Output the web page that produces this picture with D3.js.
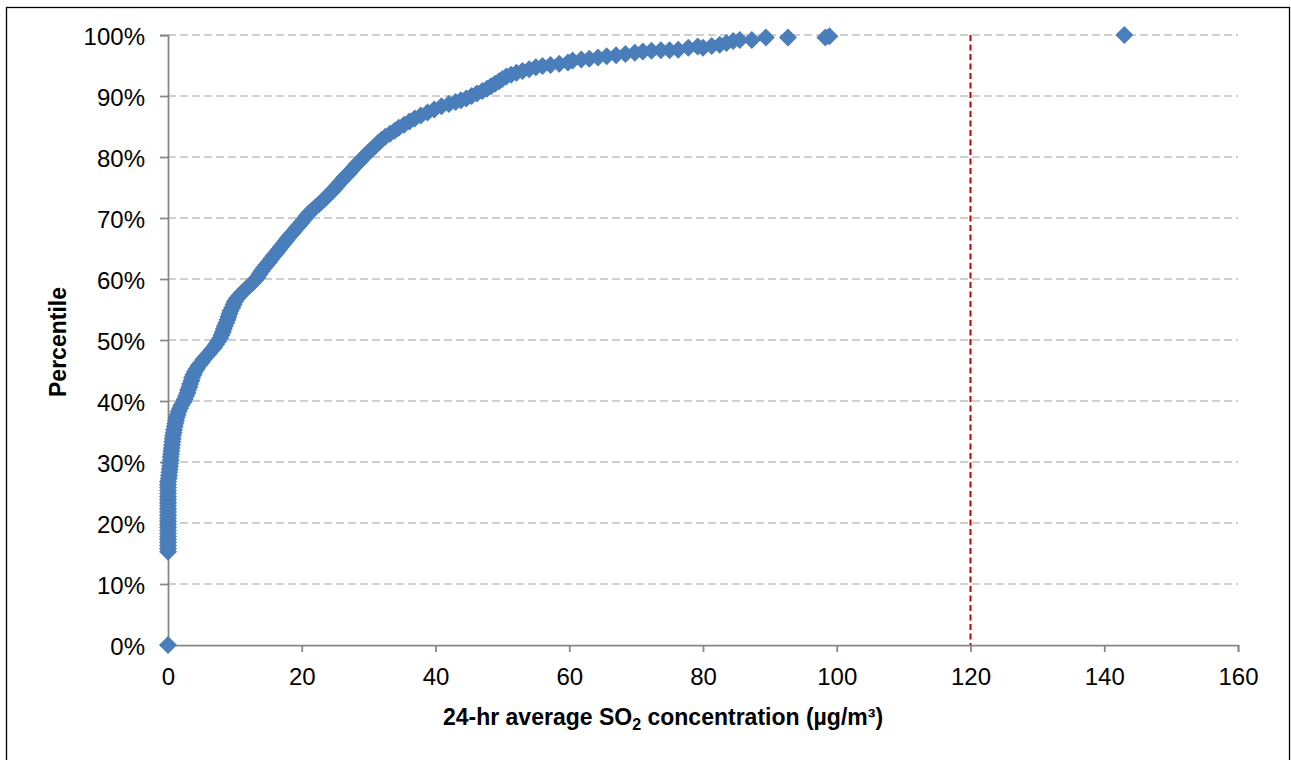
<!DOCTYPE html>
<html>
<head>
<meta charset="utf-8">
<script src="https://cdn.jsdelivr.net/npm/d3@7"></script>
<style>
  body { margin: 0; background: #fff; }
  svg { display: block; }
  text { font-family: "Liberation Sans", Arial, sans-serif; fill: #000; }
</style>
</head>
<body>
<div id="chart"></div>
<script>
/* concentracoes (ug/m3) e percentis (%) */
var conc = [0,
  0,0,0,0,0,0,0,0,0,0,0,0,0,0,0,0,0,0,0,0,0,0,0,0,
  0.1,0.15,0.2,0.25,0.3,0.35,0.4,0.4,0.45,0.5,0.55,0.6,0.65,0.7,0.75,0.85,0.9,1.0,1.1,1.2,
  1.3,1.45,1.6,1.8,2.0,2.3,2.5,2.7,2.9,3.0,3.2,3.3,3.5,3.6,3.8,4.0,4.3,4.6,5.0,5.3,
  5.7,6.1,6.5,6.9,7.2,7.5,7.8,8.0,8.2,8.35,8.5,8.7,8.9,9.05,9.2,9.35,9.6,9.8,10.0,10.3,
  10.7,11.1,11.6,12.1,12.6,13.0,13.4,13.7,14.0,14.35,14.7,15.1,15.45,15.8,16.2,16.55,16.9,17.3,17.65,18.0,
  18.4,18.8,19.2,19.6,20.0,20.35,20.7,21.1,21.6,22.1,22.6,23.1,23.6,24.0,24.5,24.9,25.3,25.7,26.1,26.5,
  27.0,27.4,27.8,28.2,28.7,29.1,29.5,30.0,30.5,31.0,31.4,31.9,32.5,33.2,33.9,34.5,35.3,36.1,36.9,37.8,
  38.8,39.8,40.9,42.0,43.0,43.8,44.6,45.4,46.2,47.0,47.7,48.3,48.9,49.5,50.0,50.6,51.3,52.1,53.0,54.0,
  55.0,56.0,57.2,58.5,59.8,60.5,61.8,63.0,64.3,65.6,67.0,68.4,69.8,71.0,72.3,73.7,75.0,76.3,77.8,79.2,
  80.0,81.3,82.5,83.5,84.5,85.5,87.3,89.4,92.7,98.3,98.9,143.0];

var pct = [0,
  15.3,15.8,16.3,16.8,17.3,17.8,18.3,18.8,19.3,19.8,20.3,20.8,21.3,21.8,22.3,22.8,23.3,23.8,24.3,24.8,25.3,25.8,26.3,26.8,
  27.3,27.8,28.3,28.8,29.3,29.8,30.3,30.8,31.3,31.8,32.3,32.8,33.3,33.8,34.3,34.8,35.3,35.8,36.3,36.8,
  37.3,37.8,38.3,38.8,39.3,39.8,40.3,40.8,41.3,41.8,42.3,42.8,43.3,43.8,44.3,44.8,45.3,45.8,46.3,46.8,
  47.3,47.8,48.3,48.8,49.3,49.8,50.3,50.8,51.3,51.8,52.3,52.8,53.3,53.8,54.3,54.8,55.3,55.8,56.3,56.8,
  57.3,57.8,58.3,58.8,59.3,59.8,60.3,60.8,61.3,61.8,62.3,62.8,63.3,63.8,64.3,64.8,65.3,65.8,66.3,66.8,
  67.3,67.8,68.3,68.8,69.3,69.8,70.3,70.8,71.3,71.8,72.3,72.8,73.3,73.8,74.3,74.8,75.3,75.8,76.3,76.8,
  77.3,77.8,78.3,78.8,79.3,79.8,80.3,80.8,81.3,81.8,82.3,82.8,83.3,83.8,84.3,84.8,85.3,85.8,86.3,86.8,
  87.3,87.8,88.3,88.7,89.0,89.3,89.6,90.0,90.4,90.8,91.2,91.6,92.0,92.4,92.8,93.2,93.5,93.8,94.1,94.4,
  94.7,94.9,95.1,95.3,95.5,95.8,96.0,96.1,96.3,96.5,96.7,96.9,97.1,97.3,97.4,97.5,97.5,97.6,97.9,98.1,
  97.9,98.2,98.4,98.7,99.0,99.2,99.2,99.6,99.6,99.6,99.8,100.0];

var xTicks = [0, 20, 40, 60, 80, 100, 120, 140, 160];
var yTicks = [0, 10, 20, 30, 40, 50, 60, 70, 80, 90, 100];
var limite = 120; // linha de referencia vermelha

var W = 1291, H = 760;
var plotLeft = 168, plotRight = 1238, plotTop = 35, plotBottom = 645;

function desenha(){
    var svg = d3.select("#chart").append("svg")
        .attr("width", W).attr("height", H);

    // moldura externa
    svg.append("rect")
        .attr("x", 6.5).attr("y", 7.5)
        .attr("width", 1283).attr("height", 800)
        .attr("fill", "none").attr("stroke", "#000").attr("stroke-width", 1.3);

    var x = d3.scaleLinear().domain([0, 160]).range([plotLeft, plotRight]);
    var y = d3.scaleLinear().domain([0, 100]).range([plotBottom, plotTop]);

    // linhas de grade tracejadas
    svg.append("g").selectAll("line").data(yTicks.filter(function(d){return d > 0;}))
        .enter().append("line")
        .attr("x1", plotLeft).attr("x2", plotRight)
        .attr("y1", function(d){return y(d);}).attr("y2", function(d){return y(d);})
        .attr("stroke", "#c0c0c0").attr("stroke-width", 1.5)
        .attr("stroke-dasharray", "8,4");

    // linha vermelha do limite
    svg.append("line")
        .attr("x1", x(limite)).attr("x2", x(limite))
        .attr("y1", y(100)).attr("y2", y(0))
        .attr("stroke", "#c00000").attr("stroke-width", 2)
        .attr("stroke-dasharray", "6,3.5");

    // eixo y
    var yAxis = svg.append("g").attr("transform", "translate(" + plotLeft + ",0)")
        .call(d3.axisLeft(y).tickValues(yTicks).tickSize(8)
            .tickFormat(function(d){return d + "%";}));
    yAxis.select(".domain").attr("stroke", "#868686").attr("stroke-width", 1.75);
    yAxis.selectAll(".tick line").attr("stroke", "#868686").attr("stroke-width", 1.75);
    yAxis.selectAll(".tick text")
        .attr("x", -23).attr("dy", "0.4em")
        .style("font-size", "24px").attr("fill", "#000");

    // eixo x
    var xAxis = svg.append("g").attr("transform", "translate(0," + plotBottom + ")")
        .call(d3.axisBottom(x).tickValues(xTicks).tickSize(7));
    xAxis.select(".domain").attr("stroke", "#868686").attr("stroke-width", 1.75);
    xAxis.selectAll(".tick line").attr("stroke", "#868686").attr("stroke-width", 1.75);
    xAxis.selectAll(".tick text")
        .attr("y", 23).attr("dy", "0.71em")
        .style("font-size", "24px").attr("fill", "#000");

    // pontos (losangos)
    var pontos = conc.map(function(c, i){ return {c: c, p: pct[i]}; });
    svg.append("g").selectAll("path").data(pontos).enter().append("path")
        .attr("d", "M0,-9L9,0L0,9L-9,0Z")
        .attr("transform", function(d){ return "translate(" + x(d.c) + "," + y(d.p) + ")"; })
        .attr("fill", "#4a7ebb");

    // titulos dos eixos
    svg.append("text")
        .attr("transform", "translate(66,342) rotate(-90)")
        .attr("text-anchor", "middle")
        .style("font-size", "23px").style("font-weight", "bold")
        .text("Percentile");

    var tx = svg.append("text")
        .attr("x", 663).attr("y", 725)
        .attr("text-anchor", "middle")
        .style("font-size", "23px").style("font-weight", "bold");
    tx.append("tspan").text("24-hr average SO");
    tx.append("tspan").attr("dy", 5).style("font-size", "16px").text("2");
    tx.append("tspan").attr("dy", -5).text(" concentration (µg/m³)");
}

desenha();
</script>
</body>
</html>
